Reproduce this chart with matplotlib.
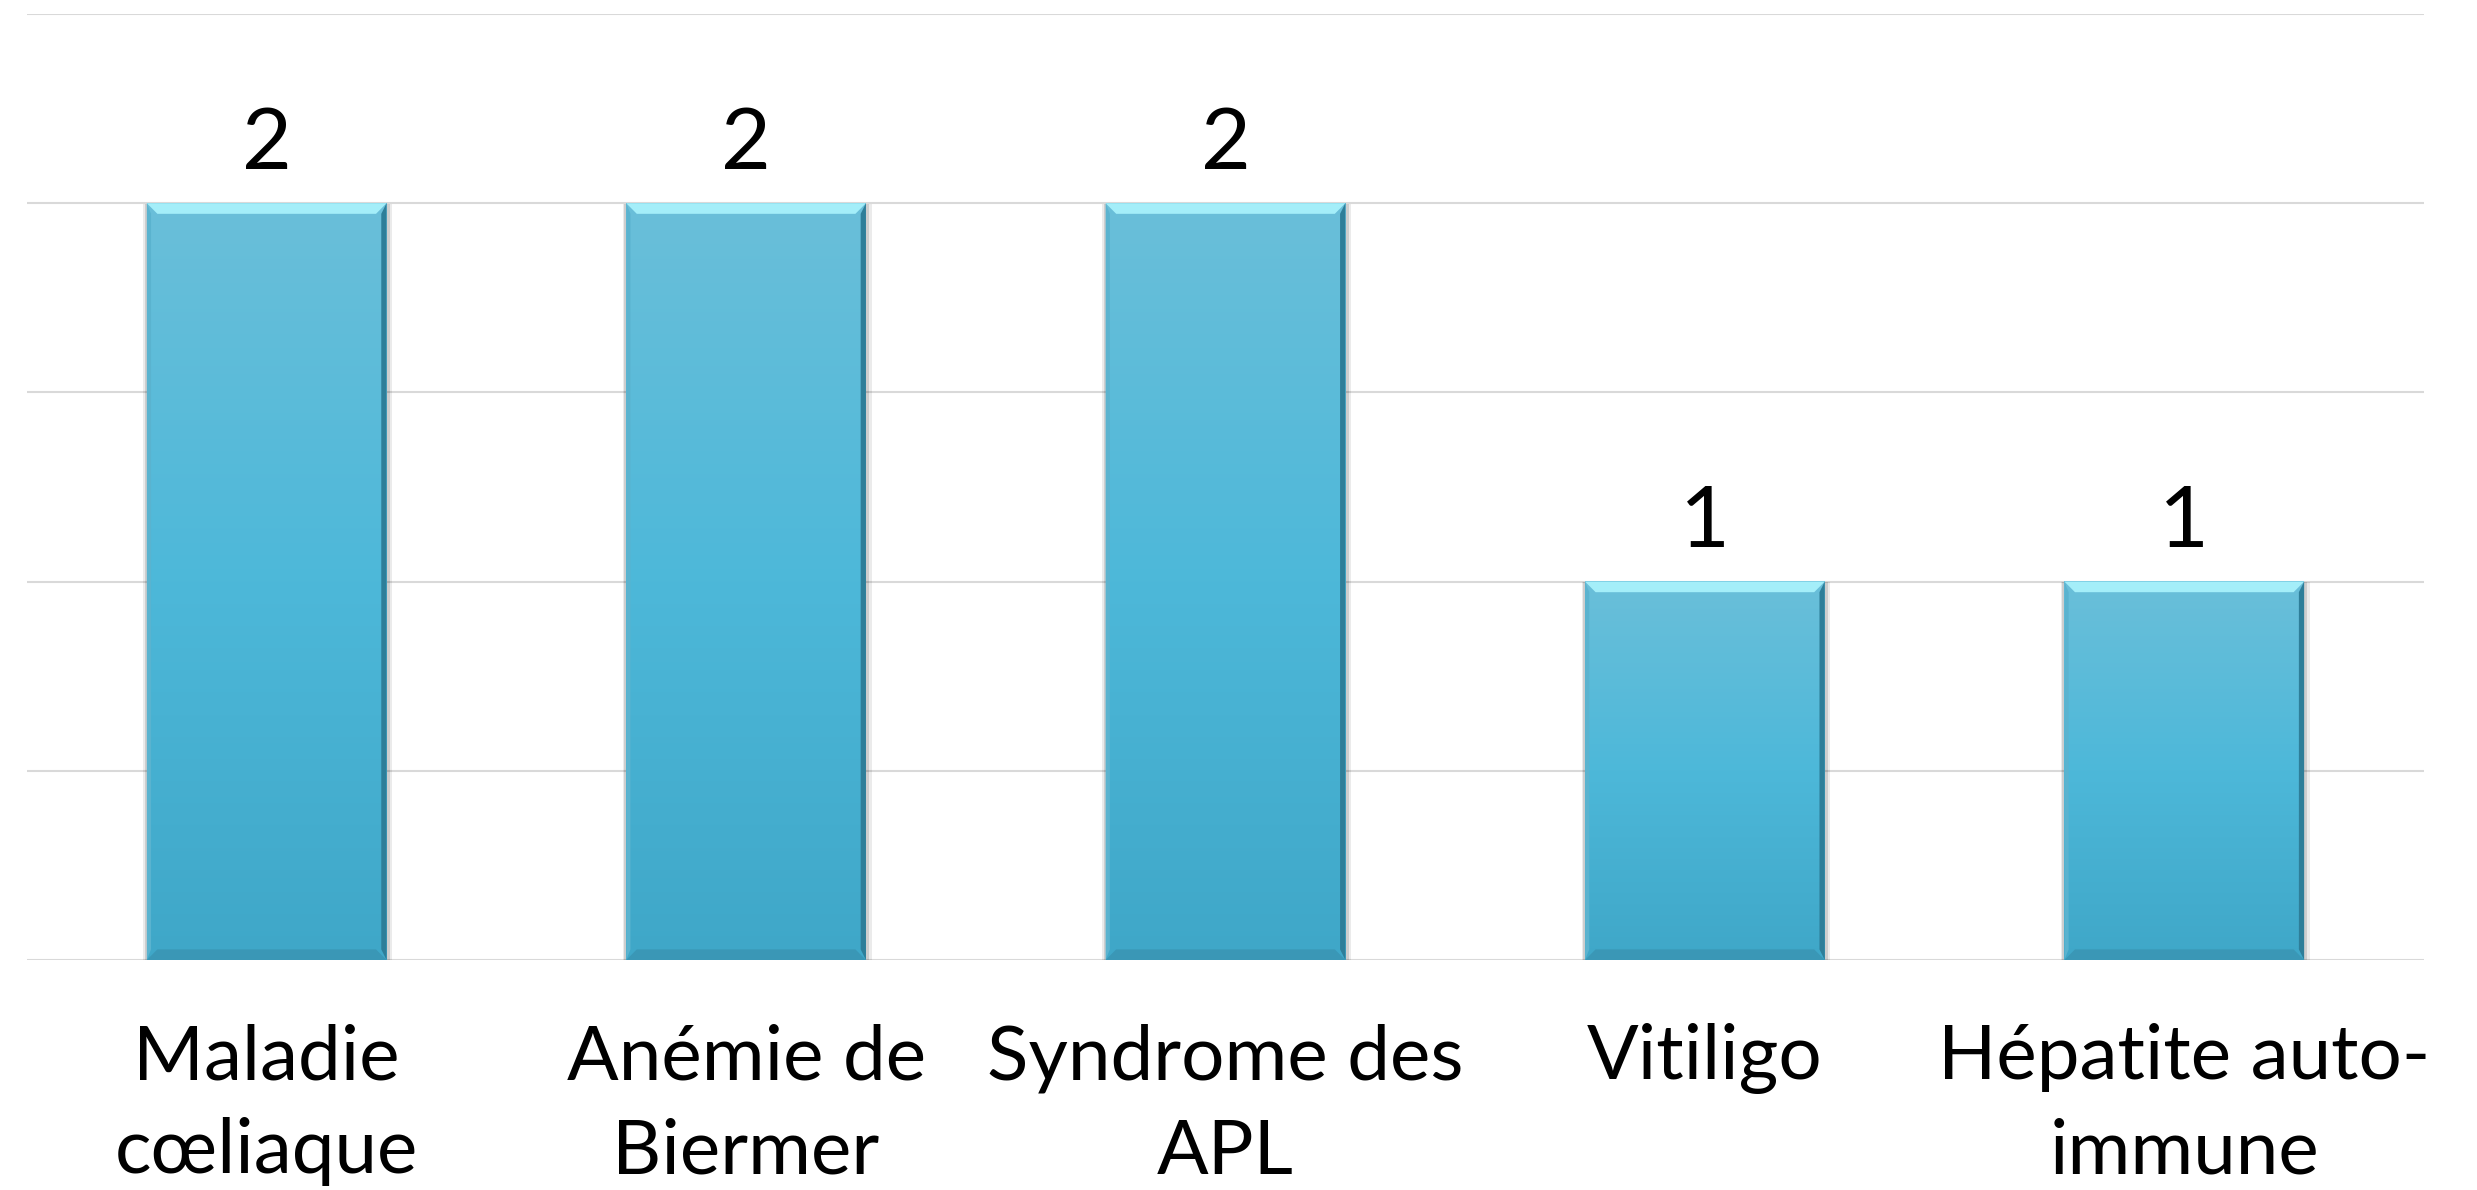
import numpy as np
import matplotlib
matplotlib.use("Agg")
from matplotlib import pyplot as plt
from matplotlib.patches import Polygon, Rectangle
from matplotlib.colors import LinearSegmentedColormap

categories = ["Maladie\ncœliaque", "Anémie de\nBiermer", "Syndrome des\nAPL",
              "Vitiligo", "Hépatite auto-\nimmune"]
values = [2, 2, 2, 1, 1]

plt.rcParams['font.family'] = ['Lato', 'DejaVu Sans']

fig = plt.figure(figsize=(24.77, 11.90), dpi=100)
ax = fig.add_axes([0.0109, 0.1933, 0.9677, 0.7949])

x = np.arange(len(categories))
bars = ax.bar(x, values, width=0.5, color='none', zorder=3)

ax.set_xlim(-0.5, len(categories) - 0.5)
ax.set_ylim(0, 2.5)
ax.set_yticks(np.arange(0, 2.51, 0.5))
ax.yaxis.grid(True, color='#D9D9D9', linewidth=1.5, zorder=0)
ax.set_axisbelow(True)
for s in ax.spines.values():
    s.set_visible(False)
ax.tick_params(axis='y', left=False, labelleft=False)
ax.tick_params(axis='x', bottom=False, pad=42)
ax.set_xticks(x)
ax.set_xticklabels(categories, fontsize=55, linespacing=1.45, color='black')

cmap = LinearSegmentedColormap.from_list('bar', ['#3FA7C8', '#4DB8D9', '#6ABFDA'])
grad = np.linspace(0, 1, 256).reshape(-1, 1)
dx, dy = 0.022, 0.028
for b in bars:
    x0, w, h = b.get_x(), b.get_width(), b.get_height()
    # soft shadow
    for k, a in [(0.012, 0.08), (0.007, 0.12)]:
        ax.add_patch(Rectangle((x0 - k * 0.6, -0.004), w + k * 1.6, h + 0.002,
                               facecolor='#000000', alpha=a, edgecolor='none', zorder=2))
    ax.imshow(grad, extent=[x0, x0 + w, 0, h], origin='lower', cmap=cmap,
              aspect='auto', zorder=3)
    # bevel edges
    ax.add_patch(Polygon([(x0, h), (x0 + w, h), (x0 + w - dx, h - dy), (x0 + dx, h - dy)],
                         facecolor='#A4EEF9', edgecolor='none', zorder=4))
    ax.add_patch(Polygon([(x0, 0), (x0 + w, 0), (x0 + w - dx, dy), (x0 + dx, dy)],
                         facecolor='#3A97B6', edgecolor='none', zorder=4))
    ax.add_patch(Polygon([(x0 + w, 0), (x0 + w, h), (x0 + w - dx * 0.5, h - dy), (x0 + w - dx * 0.5, dy)],
                         facecolor='#2E7E99', edgecolor='none', zorder=4))
    ax.add_patch(Polygon([(x0, 0), (x0, h), (x0 + dx * 0.4, h - dy), (x0 + dx * 0.4, dy)],
                         facecolor='#5AB3CF', edgecolor='none', zorder=4))
    ax.annotate(str(int(h)), (x0 + w / 2, h), xytext=(0, 25), textcoords='offset points',
                ha='center', va='baseline', fontsize=62, color='black')

ax.set_xlim(-0.5, len(categories) - 0.5)
ax.set_ylim(0, 2.5)

fig.savefig('out.png', dpi=100)
